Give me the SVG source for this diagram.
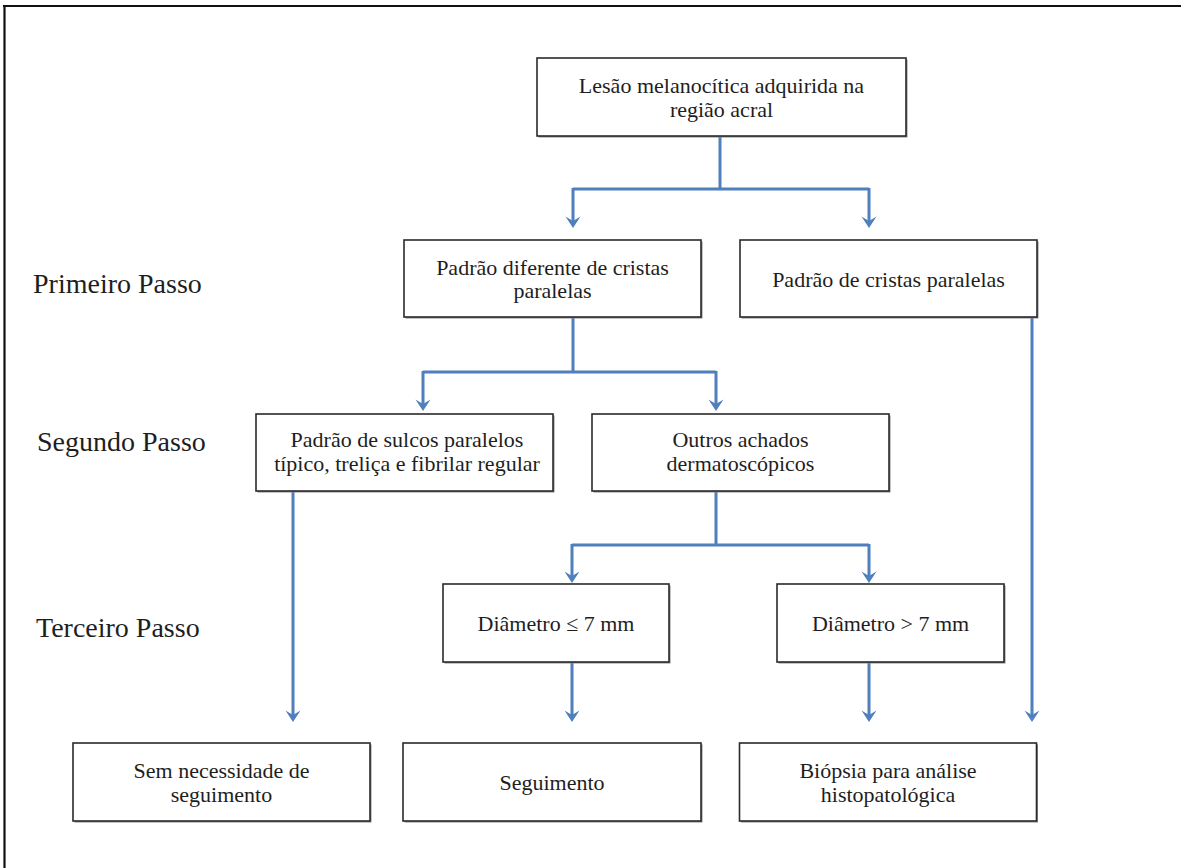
<svg xmlns="http://www.w3.org/2000/svg" width="1181" height="868" viewBox="0 0 1181 868">
<defs>
<style>
.box{fill:#fff;stroke:#2a2a2a;stroke-width:1.6}
.sh{fill:#8a8a8a}
.t{font-family:"Liberation Serif","Times New Roman",serif;font-size:22px;fill:#1e1e1e;text-anchor:middle}
.lbl{font-family:"Liberation Serif","Times New Roman",serif;font-size:28px;fill:#1e1e1e}
.c{fill:none;stroke:#4f7fbc;stroke-width:3}
.ca{fill:none;stroke:#4f7fbc;stroke-width:3;marker-end:url(#ah)}
</style>
<marker id="ah" viewBox="-12 -8 13 16" refX="-6" refY="0" markerUnits="userSpaceOnUse" markerWidth="13" markerHeight="16" orient="auto">
<path d="M0,0 L-11.5,-7.5 L-7,0 L-11.5,7.5 Z" fill="#4f7fbc"/>
</marker>
</defs>
<rect width="1181" height="868" fill="#fff"/>
<g id="frame">
<line x1="3" y1="6" x2="1181" y2="6" stroke="#111" stroke-width="2.2"/>
<line x1="4.5" y1="5" x2="4.5" y2="868" stroke="#111" stroke-width="2.2"/>
</g>
<g id="labels">
<text class="lbl" x="33" y="293">Primeiro Passo</text>
<text class="lbl" x="37" y="451">Segundo Passo</text>
<text class="lbl" x="36" y="637">Terceiro Passo</text>
</g>
<g id="connectors">
<polyline class="c" points="720,136 720,189"/>
<polyline class="c" points="573,189 869,189"/>
<line class="ca" x1="573" y1="188" x2="573" y2="222"/>
<line class="ca" x1="869" y1="188" x2="869" y2="222"/>
<polyline class="c" points="573,317 573,372"/>
<polyline class="c" points="423,372 716,372"/>
<line class="ca" x1="423" y1="371" x2="423" y2="405"/>
<line class="ca" x1="716" y1="371" x2="716" y2="405"/>
<polyline class="c" points="716,491 716,545"/>
<polyline class="c" points="572,545 869,545"/>
<line class="ca" x1="572" y1="544" x2="572" y2="577"/>
<line class="ca" x1="869" y1="544" x2="869" y2="577"/>
<line class="ca" x1="293" y1="491" x2="293" y2="716"/>
<line class="ca" x1="572" y1="662" x2="572" y2="716"/>
<line class="ca" x1="869" y1="662" x2="869" y2="716"/>
<line class="ca" x1="1032" y1="317" x2="1032" y2="716"/>
</g>
<g id="n1">
<rect class="sh" x="538.5" y="59.5" width="369" height="78"/>
<rect class="box" x="537" y="58" width="369" height="78"/>
<text class="t" x="721.5" y="92.5">Lesão melanocítica adquirida na</text>
<text class="t" x="721.5" y="116.5">região acral</text>
</g>
<g id="n2">
<rect class="sh" x="405.5" y="241.5" width="297" height="77"/>
<rect class="box" x="404" y="240" width="297" height="77"/>
<text class="t" x="552.5" y="275">Padrão diferente de cristas</text>
<text class="t" x="552.5" y="298">paralelas</text>
</g>
<g id="n3">
<rect class="sh" x="741.5" y="241.5" width="297" height="77"/>
<rect class="box" x="740" y="240" width="297" height="77"/>
<text class="t" x="888.5" y="287">Padrão de cristas paralelas</text>
</g>
<g id="n4">
<rect class="sh" x="257.5" y="415.5" width="297" height="77"/>
<rect class="box" x="256" y="414" width="297" height="77"/>
<text class="t" x="407" y="447">Padrão de sulcos paralelos</text>
<text class="t" x="407" y="471">típico, treliça e fibrilar regular</text>
</g>
<g id="n5">
<rect class="sh" x="593.5" y="415.5" width="297" height="77"/>
<rect class="box" x="592" y="414" width="297" height="77"/>
<text class="t" x="740.5" y="447">Outros achados</text>
<text class="t" x="740.5" y="471">dermatoscópicos</text>
</g>
<g id="n6">
<rect class="sh" x="444.5" y="585.5" width="226" height="78"/>
<rect class="box" x="443" y="584" width="226" height="78"/>
<text class="t" x="556" y="631">Diâmetro ≤ 7 mm</text>
</g>
<g id="n7">
<rect class="sh" x="778.5" y="585.5" width="227" height="78"/>
<rect class="box" x="777" y="584" width="227" height="78"/>
<text class="t" x="890.5" y="631">Diâmetro &gt; 7 mm</text>
</g>
<g id="n8">
<rect class="sh" x="74.5" y="744.5" width="297" height="78"/>
<rect class="box" x="73" y="743" width="297" height="78"/>
<text class="t" x="221.5" y="778">Sem necessidade de</text>
<text class="t" x="221.5" y="802">seguimento</text>
</g>
<g id="n9">
<rect class="sh" x="404.5" y="744.5" width="298" height="78"/>
<rect class="box" x="403" y="743" width="298" height="78"/>
<text class="t" x="552" y="790">Seguimento</text>
</g>
<g id="n10">
<rect class="sh" x="741" y="744.5" width="297" height="78"/>
<rect class="box" x="739.5" y="743" width="297" height="78"/>
<text class="t" x="888" y="778">Biópsia para análise</text>
<text class="t" x="888" y="802">histopatológica</text>
</g>
</svg>
